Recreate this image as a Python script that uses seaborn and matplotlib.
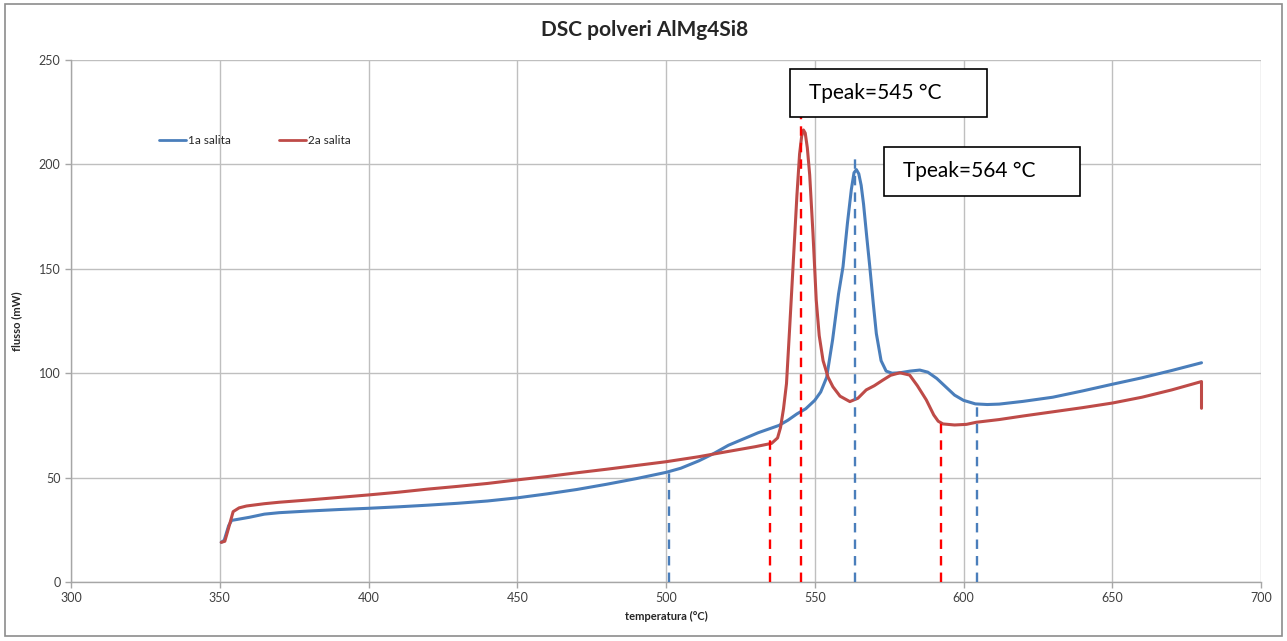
import pandas as pd
import matplotlib
matplotlib.use("Agg")
import matplotlib.pyplot as plt
from matplotlib.patches import Rectangle
import seaborn as sns

# 1a salita (blue)
temp_1a = [350.5, 351.5, 353, 354, 356, 360, 365, 370, 380, 390, 400, 410, 420, 430, 440,
           450, 460, 470, 480, 490, 500, 505, 511, 516, 521, 526, 531, 535, 538, 541, 544,
           547, 550, 552, 554, 556, 558, 559.5, 561, 562.3, 563.2, 564, 564.8, 565.6, 566.4,
           567.5, 568.5, 569.7, 570.7, 572.3, 574, 576, 578.6, 582, 585.3, 588, 591, 594, 597,
           600, 604, 608, 612, 620, 630, 640, 650, 660, 670, 680]
flux_1a = [19, 20, 27, 29.5, 30, 31, 32.5, 33.2, 34, 34.7, 35.3, 36, 36.8, 37.7, 38.8,
           40.3, 42.2, 44.3, 46.8, 49.5, 52.5, 54.5, 58, 61.5, 65.5, 68.5, 71.5, 73.5, 75, 77.5, 80.5,
           83, 87, 91, 98, 116, 138, 151, 172, 188, 196, 197.5, 195.5, 190, 181,
           165, 151, 133, 119, 106, 101, 100, 100.2, 101, 101.5, 100.5, 97.5, 93.5, 89.5,
           87, 85.3, 85, 85.2, 86.5, 88.5, 91.5, 94.7, 97.8, 101.3, 105]

# 2a salita (red)
temp_2a = [350.5, 351.7, 353, 354.5, 356.5, 359, 365, 370, 380, 390, 400, 410, 420, 430, 440,
           450, 460, 470, 480, 490, 500, 511, 520, 530, 535.5, 537.5, 538.5, 539.5, 540.5, 541.5,
           542.7, 544, 544.9, 545.6, 546.2, 546.8, 547.5, 548.3, 549.4, 550.5, 551.5, 552.8,
           554.5, 556.1, 558.5, 561.8, 564.5, 567.3, 570, 572.9, 575.5, 578.6, 581.9, 584.5,
           587.5, 590, 591.5, 593.1, 597, 601, 604.3, 612, 620, 630, 640, 650, 660, 670, 680, 680]
flux_2a = [19, 19.5, 26, 33.7, 35.5, 36.4, 37.5, 38.2, 39.3, 40.5, 41.7, 43, 44.5, 45.8, 47.2,
           48.9, 50.5, 52.3, 54, 55.8, 57.6, 60, 62.3, 64.8, 66.4, 69, 74, 83, 95, 120,
           151, 185, 205, 213.5, 216.5, 215, 208, 195, 167, 135, 118, 106,
           98, 93.5, 89, 86.4, 88, 92, 94, 96.7, 99, 100.2, 99.1, 94,
           87.2, 80, 77, 75.7, 75.2, 75.5, 76.5, 77.8, 79.5, 81.5, 83.5, 85.7, 88.5, 92, 96, 83.2]

series_names = ["1a salita", "2a salita"]
series_colors = ["#4a7ebb", "#be4b48"]

# dashed reference lines (onset / peak / endset)
ref_x = [501, 535, 545.5, 563.5, 592.5, 604.5]
ref_top = [55, 69, 222.5, 205.5, 76, 85]
ref_colors = ["#4a7ebb", "#ff0000", "#ff0000", "#4a7ebb", "#ff0000", "#4a7ebb"]

peak_labels = ["Tpeak=545 °C", "Tpeak=564 °C"]

df = pd.concat([
    pd.DataFrame({"temperatura": temp_1a, "flusso": flux_1a, "serie": series_names[0]}),
    pd.DataFrame({"temperatura": temp_2a, "flusso": flux_2a, "serie": series_names[1]}),
], ignore_index=True)

sns.set_theme(style="white")
plt.rcParams["font.family"] = ["Lato", "DejaVu Sans"]

fig = plt.figure(figsize=(12.87, 6.41), dpi=100)
ax = fig.add_axes([71 / 1287, 59 / 641, 1190 / 1287, 522 / 641])

for x, top, c in zip(ref_x, ref_top, ref_colors):
    ax.vlines(x, 0, top, colors=c, linestyles=(0, (4, 3)), linewidth=1.7, zorder=3)

sns.lineplot(data=df, x="temperatura", y="flusso", hue="serie", sort=False,
             estimator=None, palette=series_colors, linewidth=2.2, ax=ax, zorder=2)

ax.set_xlim(300, 700)
ax.set_ylim(0, 250)
ax.set_xticks(range(300, 701, 50))
ax.set_yticks(range(0, 251, 50))
ax.grid(True, color="#bfbfbf", linewidth=1)
for s in ["top", "right"]:
    ax.spines[s].set_visible(False)
for s in ["left", "bottom"]:
    ax.spines[s].set_color("#a6a6a6")
    ax.spines[s].set_linewidth(1)
ax.tick_params(axis="both", labelsize=9, colors="#404040", length=4, width=1,
               direction="out", bottom=True, left=True, color="#a6a6a6")
ax.set_xlabel("temperatura (°C)", fontsize=8, fontweight="bold", color="#262626", labelpad=5)
ax.set_ylabel("flusso (mW)", fontsize=8, fontweight="bold", color="#262626", labelpad=12)

leg = ax.legend(loc="center left", bbox_to_anchor=(0.065, 0.845), ncol=2, frameon=False,
                fontsize=8.5, handlelength=2.3, handletextpad=0.2, columnspacing=4)
for line in leg.get_lines():
    line.set_linewidth(2)

# peak annotation boxes
boxes = [(541.6, 222.7, 66.2, 23.0), (573.2, 184.9, 65.8, 23.4)]
for (bx, by, bw, bh), label in zip(boxes, peak_labels):
    ax.add_patch(Rectangle((bx, by), bw, bh, facecolor="white", edgecolor="black",
                           linewidth=1.2, zorder=5, clip_on=False))
    ax.text(bx + 6.5, by + bh / 2, label, fontsize=15, va="center", ha="left",
            color="black", zorder=6)

fig.suptitle("DSC polveri AlMg4Si8", x=645 / 1287, y=1 - 30 / 641, va="center",
             fontsize=15, fontweight="bold", color="#262626")

fig.patches.append(Rectangle((5 / 1287, 5 / 641), 1277 / 1287, 632 / 641,
                             transform=fig.transFigure, fill=False,
                             edgecolor="#8c8c8c", linewidth=1.2))

fig.savefig("out.png", dpi=100)
